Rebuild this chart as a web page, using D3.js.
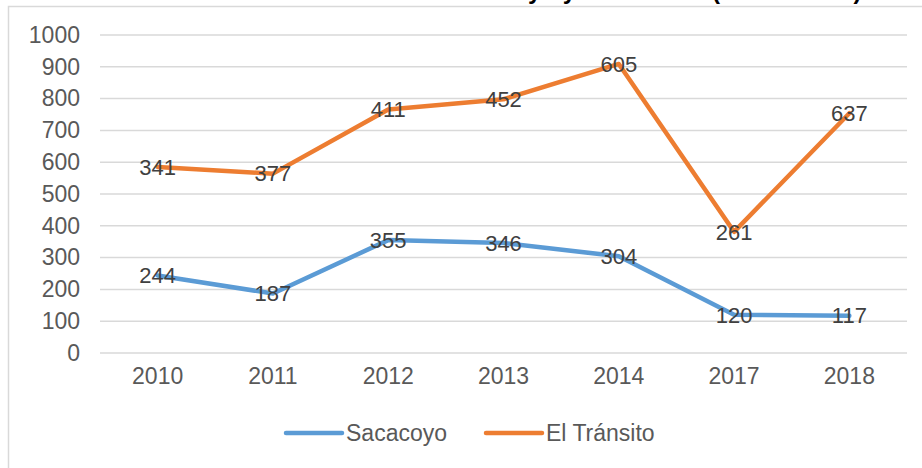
<!DOCTYPE html>
<html>
<head>
<meta charset="utf-8">
<script src="https://cdn.jsdelivr.net/npm/d3@7"></script>
<style>
  body { margin: 0; background: #fff; }
  svg { display: block; font-family: "Liberation Sans", Arial, sans-serif; }
</style>
</head>
<body>
<svg id="chart" width="922" height="468"></svg>
<script>
// data (stacked line chart: orange sits on top of blue)
const years = ["2010", "2011", "2012", "2013", "2014", "2017", "2018"]
const sacacoyo = [244, 187, 355, 346, 304, 120, 117]
const elTransito = [341, 377, 411, 452, 605, 261, 637]
const yTicks = [0, 100, 200, 300, 400, 500, 600, 700, 800, 900, 1000]
const seriesNames = ["Sacacoyo", "El Tránsito"]
const seriesColors = ["#5B9BD5", "#ED7D31"]

const svg = d3.select("#chart")
const margin = {left: 100, right: 15, top: 35, bottom: 115}
const W = 922, H = 468

// outer chart border
svg.append("rect")
   .attr("x", 8.5).attr("y", 6.5)
   .attr("width", 940).attr("height", 480)
   .attr("fill", "none").attr("stroke", "#D9D9D9").attr("stroke-width", 1.5)

// title sits mostly above the page, only descenders peek in
svg.append("text")
   .attr("x", 444).attr("y", -1)
   .attr("font-size", 24).attr("font-weight", "bold").attr("fill", "#000")
   .text("Sacacoyo y El Tránsito (2010 – 2018)")

const x = d3.scaleBand().domain(years).range([margin.left, W - margin.right])
const y = d3.scaleLinear().domain([0, 1000]).range([353, 35])

// gridlines
svg.append("g")
   .selectAll("line").data(yTicks).join("line")
   .attr("x1", margin.left).attr("x2", W - margin.right)
   .attr("y1", d => y(d)).attr("y2", d => y(d))
   .attr("stroke", "#D9D9D9").attr("stroke-width", 1.5)

// y axis labels
const yAxis = svg.append("g")
   .attr("transform", `translate(${margin.left - 20},0)`)
   .call(d3.axisLeft(y).tickValues(yTicks).tickFormat(d3.format("d")).tickSize(0).tickPadding(0))
yAxis.select(".domain").remove()
yAxis.selectAll("text")
     .attr("font-size", 23).attr("fill", "#595959")
     .attr("font-family", "Liberation Sans, Arial, sans-serif")

// x axis labels
const xAxis = svg.append("g")
   .attr("transform", "translate(0,366)")
   .call(d3.axisBottom(x).tickSize(0).tickPadding(0))
xAxis.select(".domain").remove()
xAxis.selectAll("text")
     .attr("font-size", 23).attr("fill", "#595959").attr("dy", "0.8em")
     .attr("font-family", "Liberation Sans, Arial, sans-serif")

// stacked values
const rows = years.map((yr, i) => ({year: yr, a: sacacoyo[i], b: elTransito[i]}))
const stack = d3.stack().keys(["a", "b"])(rows)

const line = d3.line()
   .x(d => x(d.data.year) + x.bandwidth() / 2)
   .y(d => y(d[1]))

svg.append("g")
   .selectAll("path").data(stack).join("path")
   .attr("d", line)
   .attr("fill", "none")
   .attr("stroke", (d, i) => seriesColors[i])
   .attr("stroke-width", 4.5)
   .attr("stroke-linejoin", "round")
   .attr("stroke-linecap", "round")

// data labels centred on points, showing the raw values
stack.forEach((s, si) => {
  svg.append("g")
     .selectAll("text").data(s).join("text")
     .attr("x", d => x(d.data.year) + x.bandwidth() / 2)
     .attr("y", d => y(d[1]))
     .attr("dy", "0.35em")
     .attr("text-anchor", "middle")
     .attr("font-size", 22).attr("fill", "#404040")
     .text(d => d[1] - d[0])
})

// legend
const legend = svg.append("g")
const legendX = [286, 486]
seriesNames.forEach((name, i) => {
  const g = legend.append("g").attr("transform", `translate(${legendX[i]},433)`)
  g.append("line")
   .attr("x1", 0).attr("x2", 56).attr("y1", 0).attr("y2", 0)
   .attr("stroke", seriesColors[i]).attr("stroke-width", 4.5)
   .attr("stroke-linecap", "round")
  g.append("text")
   .attr("x", 60).attr("dy", "0.35em")
   .attr("font-size", 23).attr("fill", "#595959")
   .text(name)
})
</script>
</body>
</html>
